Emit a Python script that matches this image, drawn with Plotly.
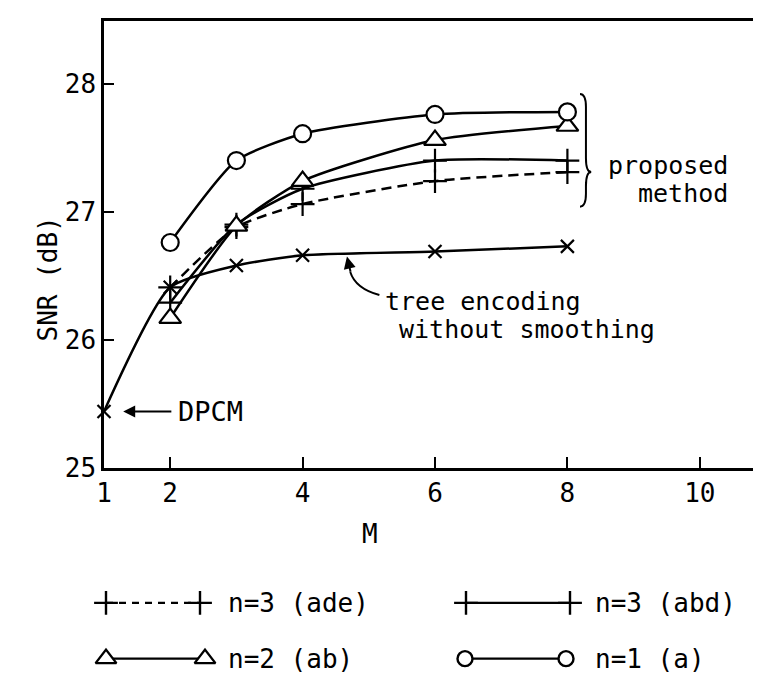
import plotly.graph_objects as go

# ---------------- data ----------------
M_prop = [2, 3, 4, 6, 8]
snr_n1_a = [26.76, 27.40, 27.61, 27.76, 27.78]
snr_n2_ab = [26.17, 26.89, 27.24, 27.56, 27.67]
snr_n3_abd = [26.29, 26.90, 27.18, 27.40, 27.40]
snr_n3_ade = [26.41, 26.88, 27.06, 27.24, 27.31]
M_tree = [1, 2, 3, 4, 6, 8]
snr_tree = [25.44, 26.41, 26.58, 26.66, 26.69, 26.73]

x_ticks = [1, 2, 4, 6, 8, 10]
y_ticks = [25, 26, 27, 28]

legend_labels = ["n=3 (ade)", "n=3 (abd)", "n=2 (ab)", "n=1 (a)"]

FONT = "DejaVu Sans Mono"
BLACK = "black"

fig = go.Figure()

def add_series(x, y, symbol, size, dash="solid", fill=False):
    fig.add_trace(go.Scatter(
        x=x, y=y, mode="lines+markers",
        line=dict(color=BLACK, width=2.5, dash=dash, shape="spline", smoothing=0.6),
        marker=dict(symbol=symbol, size=size,
                    color="white" if fill else BLACK,
                    line=dict(color=BLACK, width=2.2)),
        showlegend=False, cliponaxis=False,
    ))

add_series(M_tree, snr_tree, "x-thin-open", 13)
add_series(M_prop, snr_n3_ade, "cross-thin-open", 17, dash="10px,6px")
add_series(M_prop, snr_n3_abd, "cross-thin-open", 17)
add_series(M_prop, snr_n2_ab, "triangle-up", 19, fill=True)
add_series(M_prop, snr_n1_a, "circle", 17, fill=True)

# ---------------- legend (drawn in its own axis) ----------------
row1, row2 = 0.651, 0.209
legend_keys = [
    (98, 192, row1, "cross-thin-open", 17, "7px,6px", False, 218, legend_labels[0]),
    (458, 562, row1, "cross-thin-open", 17, "solid", False, 585, legend_labels[1]),
    (98, 197, row2, "triangle-up", 18, "solid", True, 218, legend_labels[2]),
    (457, 558, row2, "circle", 15, "solid", True, 585, legend_labels[3]),
]
for x0, x1, yy, sym, sz, dash, fill, tx, label in legend_keys:
    fig.add_trace(go.Scatter(
        x=[x0, x1], y=[yy, yy], xaxis="x2", yaxis="y2", mode="lines+markers",
        line=dict(color=BLACK, width=2.4, dash=dash),
        marker=dict(symbol=sym, size=sz, color="white" if fill else BLACK,
                    line=dict(color=BLACK, width=2.4)),
        showlegend=False, cliponaxis=False,
    ))
    fig.add_annotation(x=tx, y=yy, xref="x2", yref="y2", text=label,
                       showarrow=False, xanchor="left", yanchor="middle",
                       font=dict(family=FONT, size=26, color=BLACK))

# ---------------- annotations ----------------
txt = dict(family=FONT, size=27, color=BLACK)
txt2 = dict(family=FONT, size=25, color=BLACK)
fig.add_annotation(x=2.09, y=25.44, text="DPCM", showarrow=False,
                   xanchor="left", yanchor="middle", font=txt)
fig.add_annotation(x=1.29, y=25.44, ax=2.04, ay=25.44, axref="x", ayref="y",
                   text="", showarrow=True, arrowhead=2, arrowsize=1.2,
                   arrowwidth=2, arrowcolor=BLACK)

fig.add_annotation(x=5.22, y=26.30, text="tree encoding", showarrow=False,
                   xanchor="left", yanchor="middle", font=txt2)
fig.add_annotation(x=5.42, y=26.08, text="without smoothing", showarrow=False,
                   xanchor="left", yanchor="middle", font=txt2)
fig.add_annotation(x=4.67, y=26.65, ax=4.73, ay=26.52, axref="x", ayref="y",
                   text="", showarrow=True, arrowhead=2, arrowsize=1.2,
                   arrowwidth=2, arrowcolor=BLACK)
fig.add_shape(type="path", xref="x", yref="y",
              path="M 4.72,26.53 Q 4.80,26.40 5.16,26.35",
              line=dict(color=BLACK, width=2))

fig.add_annotation(x=10.46, y=27.36, text="proposed", showarrow=False,
                   xanchor="right", yanchor="middle", font=txt2)
fig.add_annotation(x=10.46, y=27.14, text="method", showarrow=False,
                   xanchor="right", yanchor="middle", font=txt2)
fig.add_shape(type="path", xref="x", yref="y",
              path=("M 8.19,27.92 Q 8.28,27.92 8.28,27.82 L 8.28,27.42 "
                    "Q 8.28,27.31 8.36,27.31 Q 8.28,27.31 8.28,27.20 "
                    "L 8.28,27.14 Q 8.28,27.04 8.19,27.04"),
              line=dict(color=BLACK, width=2))

# axis titles
fig.add_annotation(x=-0.110, y=0.611, xref="paper", yref="paper", text="SNR (dB)",
                   textangle=-90, showarrow=False, font=dict(family=FONT, size=26, color=BLACK))
fig.add_annotation(x=0.402, y=0.202, xref="paper", yref="paper", text="M",
                   showarrow=False, font=dict(family=FONT, size=26, color=BLACK))

fig.update_layout(
    width=761, height=692,
    margin=dict(l=96, r=3, t=13, b=0),
    plot_bgcolor="white", paper_bgcolor="white",
    font=dict(family=FONT, size=26, color=BLACK),
    xaxis=dict(range=[1, 11], tickvals=x_ticks, ticks="inside", ticklen=11,
               tickwidth=2, tickcolor=BLACK, showline=True, linecolor=BLACK,
               linewidth=2.5, mirror=True, showgrid=False, zeroline=False,
               anchor="y", domain=[0, 1],
               tickfont=dict(family=FONT, size=26, color=BLACK)),
    yaxis=dict(range=[25, 28.49], tickvals=y_ticks, ticks="inside", ticklen=10,
               tickwidth=2, tickcolor=BLACK, showline=True, linecolor=BLACK,
               linewidth=2.5, mirror="ticks", showgrid=False, zeroline=False,
               domain=[0.327, 1], anchor="x",
               tickfont=dict(family=FONT, size=26, color=BLACK)),
    xaxis2=dict(range=[96, 758], domain=[0, 1], anchor="y2", visible=False),
    yaxis2=dict(range=[0, 1], domain=[0, 0.19], anchor="x2", visible=False),
)

fig.write_html("out.html")
